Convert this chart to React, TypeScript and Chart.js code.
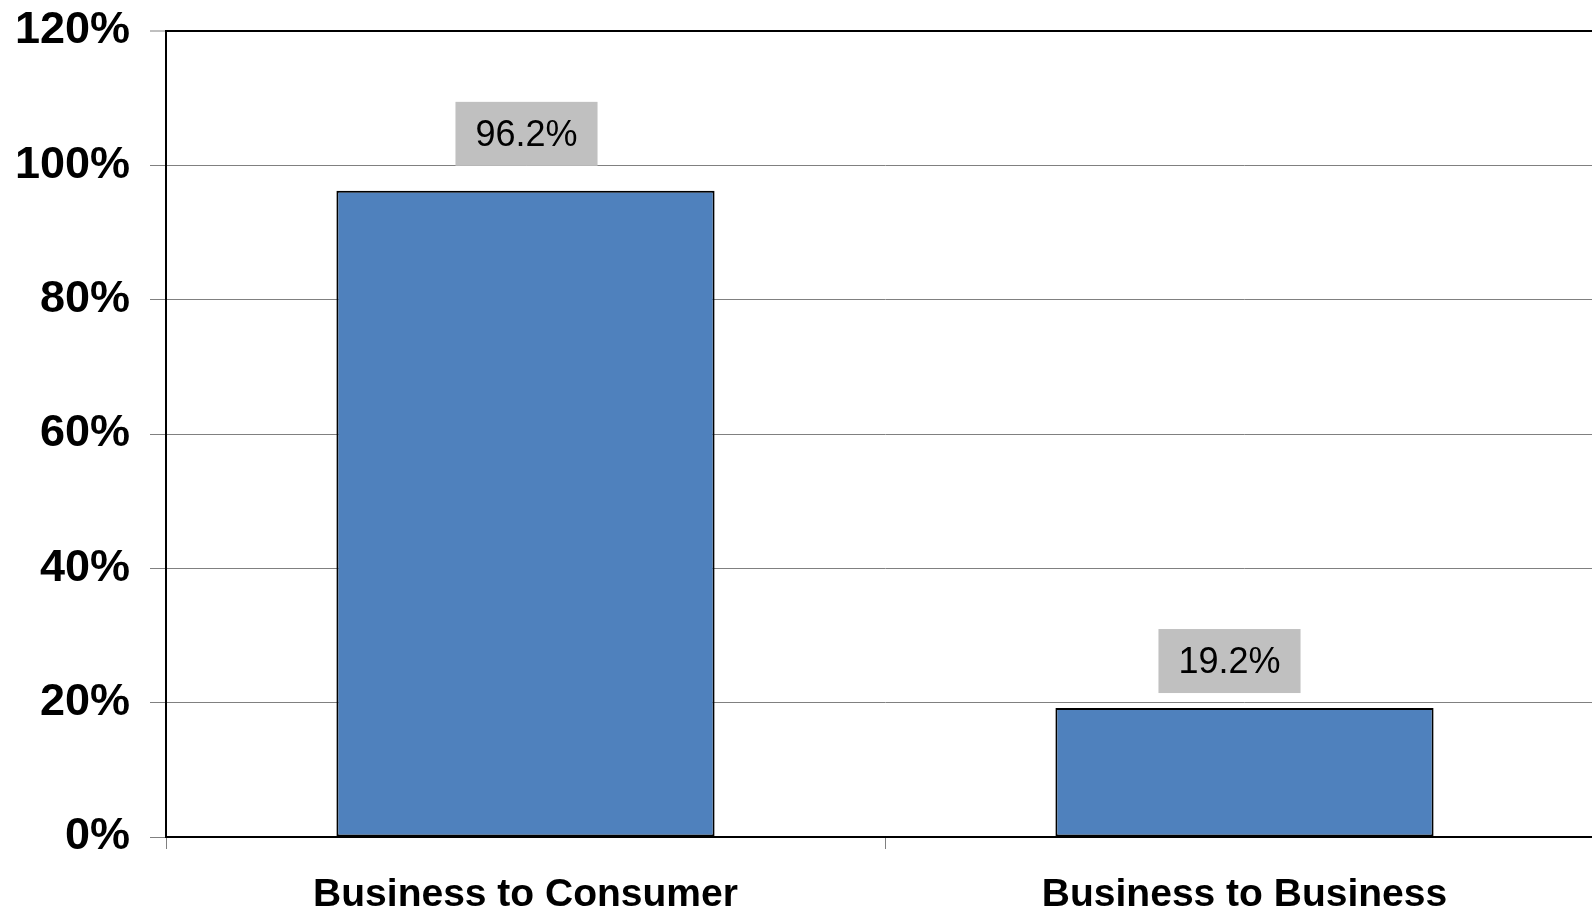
import React, { useEffect, useRef } from "react";
import { Chart, registerables } from "chart.js";

Chart.register(...registerables);

const categories = ["Business to Consumer", "Business to Business"];
const values = [96.2, 19.2];
const valueLabels = ["96.2%", "19.2%"];
const yTicks = [0, 20, 40, 60, 80, 100, 120];

const FONT = "Arial, 'Liberation Sans', Helvetica, sans-serif";
// label placement styling (offset from bar centre, gap above bar)
const labelStyle = [
  { dx: 1, gap: 25 },
  { dx: -15, gap: 15 },
];

const valueBoxPlugin = {
  id: "valueBoxes",
  afterDatasetsDraw(chart: any) {
    const ctx = chart.ctx;
    const meta = chart.getDatasetMeta(0);
    ctx.save();
    ctx.font = `36px ${FONT}`;
    meta.data.forEach((bar: any, i: number) => {
      const st = labelStyle[i] || { dx: 0, gap: 20 };
      const text = valueLabels[i];
      const tw = ctx.measureText(text).width;
      const w = tw + 40;
      const h = 64;
      const cx = bar.x + st.dx;
      const bottom = bar.y - st.gap;
      ctx.fillStyle = "#C0C0C0";
      ctx.fillRect(cx - w / 2, bottom - h, w, h);
      ctx.fillStyle = "#000000";
      ctx.textAlign = "center";
      ctx.textBaseline = "middle";
      ctx.fillText(text, cx, bottom - h / 2 + 2);
    });
    ctx.restore();
  },
};

export default function App() {
  const ref = useRef<HTMLCanvasElement | null>(null);

  useEffect(() => {
    document.body.style.margin = "0";
    if (!ref.current) return;
    const chart = new Chart(ref.current, {
      type: "bar",
      data: {
        labels: categories,
        datasets: [
          {
            data: values,
            backgroundColor: "#4F81BD",
            borderColor: "#000000",
            borderWidth: 2,
            borderSkipped: false,
            barPercentage: 0.526,
            categoryPercentage: 1,
          },
        ],
      },
      options: {
        responsive: false,
        animation: false,
        devicePixelRatio: 1,
        layout: { padding: { top: 31, right: 6, left: 0, bottom: 0 } },
        plugins: {
          legend: { display: false },
          tooltip: { enabled: false },
          title: { display: false },
        },
        scales: {
          x: {
            grid: {
              display: true,
              offset: true,
              drawOnChartArea: false,
              drawTicks: true,
              tickLength: 12,
              tickColor: "#808080",
              tickWidth: 1,
            },
            border: { display: true, color: "#000000", width: 2 },
            ticks: {
              color: "#000000",
              font: { family: FONT, size: 39, weight: "bold" },
              padding: 23,
              maxRotation: 0,
              autoSkip: false,
            },
            afterFit: (scale: any) => {
              scale.height = 74;
              scale.paddingLeft = 0;
              scale.paddingRight = 0;
            },
          },
          y: {
            min: 0,
            max: 120,
            afterBuildTicks: (scale: any) => {
              scale.ticks = yTicks.map((v) => ({ value: v }));
            },
            grid: {
              color: (c: any) => (c.tick && c.tick.value === 120 ? "#000000" : "#808080"),
              lineWidth: (c: any) => (c.tick && c.tick.value === 120 ? 2 : 1),
              tickLength: 16,
              tickColor: "#808080",
              tickWidth: 1,
              drawTicks: true,
            },
            border: { display: true, color: "#000000", width: 2 },
            ticks: {
              color: "#000000",
              font: { family: FONT, size: 45, weight: "bold" },
              padding: 20,
              callback: (v: any) => `${v}%`,
            },
            afterFit: (scale: any) => {
              scale.width = 166;
              scale.paddingTop = 0;
              scale.paddingBottom = 0;
            },
          },
        },
      },
      plugins: [valueBoxPlugin],
    });
    return () => chart.destroy();
  }, []);

  return (
    <div
      style={{
        position: "fixed",
        left: 0,
        top: 0,
        width: 1592,
        height: 911,
        overflow: "hidden",
        background: "#ffffff",
      }}
    >
      <canvas ref={ref} width={1610} height={911} style={{ display: "block" }} />
    </div>
  );
}
